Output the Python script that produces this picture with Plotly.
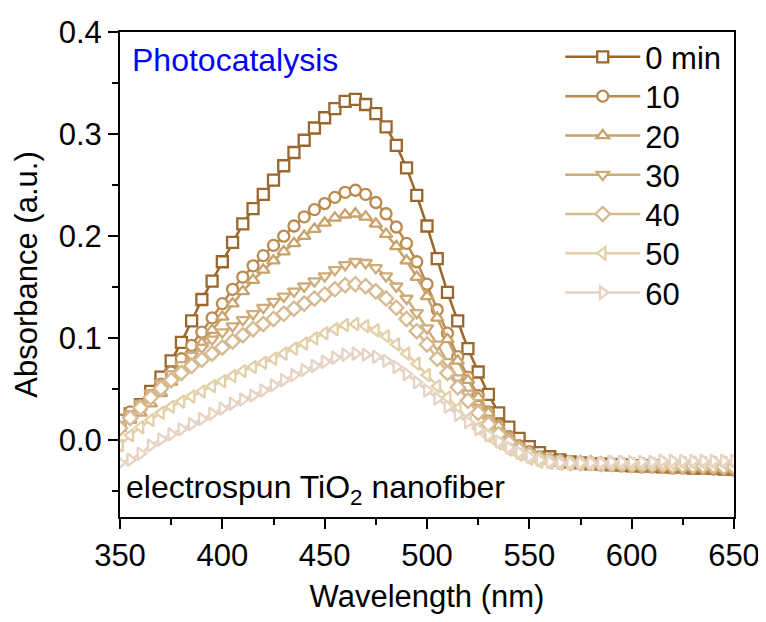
import plotly.graph_objects as go

wavelength = [350, 355, 360, 365, 370, 375, 380, 385, 390, 395,
              400, 405, 410, 415, 420, 425, 430, 435, 440, 445,
              450, 455, 460, 465, 470, 475, 480, 485, 490, 495,
              500, 505, 510, 515, 520, 525, 530, 535, 540, 545,
              550, 555, 560, 565, 570, 575, 580, 585, 590, 595,
              600, 605, 610, 615, 620, 625, 630, 635, 640, 645, 650]

abs_0 = [0.018, 0.026, 0.035, 0.048, 0.062, 0.078, 0.096, 0.117, 0.138, 0.156,
         0.175, 0.194, 0.212, 0.227, 0.241, 0.255, 0.269, 0.282, 0.294, 0.306,
         0.316, 0.325, 0.332, 0.334, 0.329, 0.320, 0.307, 0.289, 0.267, 0.240,
         0.210, 0.178, 0.145, 0.117, 0.090, 0.067, 0.045, 0.027, 0.013, 0.002,
         -0.006, -0.012, -0.016, -0.019, -0.021, -0.022, -0.023, -0.023, -0.024, -0.024,
         -0.025, -0.025, -0.025, -0.026, -0.026, -0.026, -0.027, -0.027, -0.027, -0.028, -0.028]
abs_10 = [0.020, 0.028, 0.034, 0.044, 0.055, 0.067, 0.080, 0.093, 0.106, 0.120,
          0.134, 0.148, 0.160, 0.171, 0.181, 0.191, 0.200, 0.210, 0.219, 0.226,
          0.232, 0.238, 0.243, 0.245, 0.241, 0.233, 0.222, 0.209, 0.193, 0.175,
          0.153, 0.128, 0.105, 0.082, 0.062, 0.044, 0.028, 0.015, 0.004, -0.005,
          -0.011, -0.016, -0.019, -0.021, -0.022, -0.023, -0.023, -0.024, -0.024, -0.025,
          -0.025, -0.026, -0.026, -0.026, -0.027, -0.027, -0.027, -0.027, -0.028, -0.028, -0.029]
abs_20 = [0.012, 0.020, 0.027, 0.036, 0.046, 0.057, 0.069, 0.082, 0.095, 0.108,
          0.121, 0.134, 0.146, 0.157, 0.167, 0.176, 0.185, 0.193, 0.200, 0.207,
          0.213, 0.218, 0.221, 0.222, 0.219, 0.212, 0.202, 0.190, 0.176, 0.160,
          0.141, 0.120, 0.099, 0.078, 0.059, 0.042, 0.027, 0.014, 0.003, -0.006,
          -0.012, -0.017, -0.020, -0.021, -0.022, -0.022, -0.023, -0.023, -0.024, -0.024,
          -0.024, -0.025, -0.025, -0.025, -0.025, -0.026, -0.026, -0.026, -0.026, -0.027, -0.027]
abs_30 = [0.015, 0.026, 0.036, 0.046, 0.056, 0.065, 0.074, 0.083, 0.091, 0.099,
          0.106, 0.112, 0.118, 0.124, 0.130, 0.136, 0.141, 0.146, 0.151, 0.156,
          0.161, 0.167, 0.172, 0.175, 0.174, 0.169, 0.161, 0.151, 0.139, 0.125,
          0.110, 0.094, 0.077, 0.061, 0.046, 0.032, 0.020, 0.009, 0.000, -0.007,
          -0.013, -0.017, -0.020, -0.021, -0.022, -0.022, -0.023, -0.023, -0.023, -0.024,
          -0.024, -0.024, -0.025, -0.025, -0.025, -0.025, -0.026, -0.026, -0.026, -0.026, -0.027]
abs_40 = [0.012, 0.022, 0.032, 0.042, 0.051, 0.059, 0.066, 0.073, 0.079, 0.085,
          0.091, 0.097, 0.103, 0.109, 0.114, 0.119, 0.124, 0.129, 0.134, 0.139,
          0.143, 0.148, 0.152, 0.153, 0.151, 0.146, 0.139, 0.130, 0.119, 0.107,
          0.094, 0.080, 0.066, 0.052, 0.039, 0.027, 0.016, 0.006, -0.002, -0.009,
          -0.014, -0.018, -0.020, -0.021, -0.022, -0.022, -0.022, -0.023, -0.023, -0.023,
          -0.024, -0.024, -0.024, -0.024, -0.025, -0.025, -0.025, -0.025, -0.025, -0.026, -0.026]
abs_50 = [-0.005, 0.005, 0.013, 0.020, 0.027, 0.033, 0.038, 0.043, 0.048, 0.053,
          0.058, 0.063, 0.068, 0.072, 0.076, 0.080, 0.085, 0.090, 0.095, 0.100,
          0.105, 0.109, 0.113, 0.114, 0.112, 0.108, 0.102, 0.094, 0.085, 0.075,
          0.064, 0.053, 0.042, 0.031, 0.021, 0.012, 0.004, -0.003, -0.009, -0.014,
          -0.018, -0.021, -0.022, -0.023, -0.023, -0.023, -0.023, -0.023, -0.023, -0.023,
          -0.023, -0.023, -0.023, -0.023, -0.023, -0.022, -0.022, -0.022, -0.022, -0.022, -0.022]
abs_60 = [-0.022, -0.019, -0.013, -0.005, 0.001, 0.006, 0.011, 0.016, 0.021, 0.026,
          0.031, 0.036, 0.040, 0.044, 0.049, 0.054, 0.059, 0.064, 0.069, 0.073,
          0.077, 0.081, 0.084, 0.085, 0.084, 0.082, 0.078, 0.072, 0.065, 0.057,
          0.049, 0.041, 0.033, 0.025, 0.018, 0.011, 0.005, -0.001, -0.007, -0.012,
          -0.016, -0.019, -0.021, -0.022, -0.022, -0.022, -0.022, -0.022, -0.021, -0.021,
          -0.021, -0.021, -0.021, -0.020, -0.020, -0.020, -0.020, -0.020, -0.020, -0.020, -0.020]

series_names = ["0 min", "10", "20", "30", "40", "50", "60"]
series_values = [abs_0, abs_10, abs_20, abs_30, abs_40, abs_50, abs_60]
colors = ["#9A672D", "#BA8B4F", "#C8A26A", "#CEAC7A", "#D6BA92", "#E2D0A8", "#E6D3C3"]
symbols = ["square", "circle", "triangle-up", "triangle-down", "diamond", "triangle-left", "triangle-right"]

FONT = "Arial, Liberation Sans, sans-serif"
FS = 31

# one single-entry legend per series so that row spacing can follow the reference
legend_ids = ["legend", "legend2", "legend3", "legend4", "legend5", "legend6", "legend7"]
legend_y = [0.948, 0.867, 0.786, 0.705, 0.624, 0.543, 0.462]

fig = go.Figure()
for i, (name, vals) in enumerate(zip(series_names, series_values)):
    fig.add_trace(go.Scatter(
        x=wavelength, y=vals, name=name, mode="lines+markers",
        legend=legend_ids[i],
        line=dict(color=colors[i], width=2.5),
        marker=dict(symbol=symbols[i], size=11, color="white",
                    line=dict(color=colors[i], width=2.3)),
    ))

axis_common = dict(
    showline=True, linecolor="black", linewidth=2, mirror=True,
    ticks="outside", ticklen=10, tickwidth=2, tickcolor="black",
    showgrid=False, zeroline=False, automargin=False,
    ticklabeloverflow="allow",
    tickfont=dict(family=FONT, size=FS, color="black"),
)

legend_layout = {}
for lid, ly in zip(legend_ids, legend_y):
    legend_layout[lid] = dict(x=0.717, y=ly, xanchor="left", yanchor="middle",
                              font=dict(family=FONT, size=FS, color="black"),
                              bgcolor="rgba(0,0,0,0)", itemwidth=75)

fig.update_layout(
    width=758, height=606,
    margin=dict(l=112, r=32, t=24, b=97, autoexpand=False),
    paper_bgcolor="white", plot_bgcolor="white",
    font=dict(family=FONT, color="black"),
    xaxis=dict(range=[350, 650], dtick=50, tick0=350,
               minor=dict(dtick=25, ticks="outside", ticklen=6, tickwidth=2, tickcolor="black"),
               title=dict(text="Wavelength (nm)", font=dict(family=FONT, size=FS), standoff=16),
               **axis_common),
    yaxis=dict(range=[-0.075, 0.4], dtick=0.1, tick0=0, tickformat=".1f",
               minor=dict(dtick=0.05, ticks="outside", ticklen=6, tickwidth=2, tickcolor="black"),
               title=dict(text="Absorbance (a.u.)", font=dict(family=FONT, size=FS), standoff=12),
               **axis_common),
    showlegend=True,
    **legend_layout,
)

fig.add_annotation(x=0.017, y=0.942, xref="paper", yref="paper", xanchor="left", yanchor="middle",
                   text="Photocatalysis", showarrow=False,
                   font=dict(family=FONT, size=32, color="#0000FF"))
fig.add_annotation(x=0.007, y=0.056, xref="paper", yref="paper", xanchor="left", yanchor="middle",
                   text="electrospun TiO<sub>2</sub> nanofiber", showarrow=False,
                   font=dict(family=FONT, size=32, color="black"))

fig.write_html("out.html")
